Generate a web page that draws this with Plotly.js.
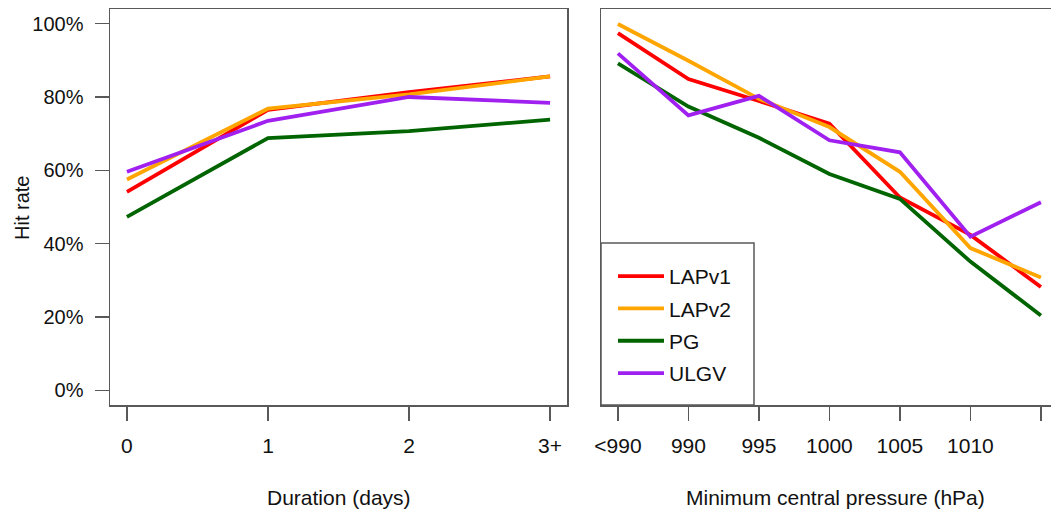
<!DOCTYPE html>
<html>
<head>
<meta charset="utf-8">
<script src="https://cdn.plot.ly/plotly-3.0.1.min.js"></script>
<style>html,body{margin:0;padding:0;background:#fff;}#chart{width:1051px;height:510px;}</style>
</head>
<body>
<div id="chart"></div>
<script>
// ---- data ----
const seriesNames = ["LAPv1", "LAPv2", "PG", "ULGV"];
const seriesColors = ["#FF0000", "#FFA500", "#006400", "#A020F0"];

const durationLabels = ["0", "1", "2", "3+"];
const durationPos = [0, 1, 2, 3];
const durLAPv1 = [54.1, 76.5, 81.3, 85.6];
const durLAPv2 = [57.5, 76.8, 80.7, 85.6];
const durPG    = [47.3, 68.8, 70.7, 73.8];
const durULGV  = [59.6, 73.5, 80.0, 78.4];

const pressureLabels = ["<990", "990", "995", "1000", "1005", "1010", ""];
const pressurePos = [0, 1, 2, 3, 4, 5, 6];
const presLAPv1 = [97.4, 84.9, 78.9, 72.7, 52.6, 42.4, 28.2];
const presLAPv2 = [99.9, 89.9, 79.5, 71.8, 59.6, 38.8, 30.8];
const presPG    = [89.2, 77.4, 68.9, 59.0, 52.2, 35.1, 20.4];
const presULGV  = [91.9, 75.0, 80.3, 68.2, 64.9, 41.9, 51.3];

const yTickVals = [0, 20, 40, 60, 80, 100];
const yTickText = ["0%", "20%", "40%", "60%", "80%", "100%"];

// ---- layout helpers ----
const W = 1051, H = 510;
const px = v => v / W;
const py = v => (H - v) / H;
const FONT = "Liberation Sans, Arial, Helvetica, sans-serif";
const AX = "#595959";

const durSeries = [durLAPv1, durLAPv2, durPG, durULGV];
const presSeries = [presLAPv1, presLAPv2, presPG, presULGV];

const traces = [];
seriesNames.forEach((name, i) => {
  traces.push({
    x: durationPos, y: durSeries[i], type: "scatter", mode: "lines",
    name: name, legendgroup: name, showlegend: true,
    line: {color: seriesColors[i], width: 3.8},
    xaxis: "x", yaxis: "y", hoverinfo: "skip"
  });
});
seriesNames.forEach((name, i) => {
  traces.push({
    x: pressurePos, y: presSeries[i], type: "scatter", mode: "lines",
    name: name, legendgroup: name, showlegend: false,
    line: {color: seriesColors[i], width: 3.8},
    xaxis: "x2", yaxis: "y2", hoverinfo: "skip"
  });
});

const yDom = [py(405), py(9)];
const xSpacing2 = 70.5;

const commonAxis = {
  showgrid: false, zeroline: false, showline: true, linecolor: AX, linewidth: 1.5,
  ticks: "outside", ticklen: 14, tickwidth: 1.5, tickcolor: AX,
  tickfont: {family: FONT, size: 21, color: "#111"}, fixedrange: true
};

const layout = {
  width: W, height: H,
  margin: {l: 0, r: 0, t: 0, b: 0, pad: 0},
  paper_bgcolor: "#fff", plot_bgcolor: "#fff",
  font: {family: FONT, color: "#111"},
  showlegend: true,
  xaxis: Object.assign({}, commonAxis, {
    domain: [px(110), px(567)], range: [-0.12, 3.12], anchor: "y",
    tickvals: durationPos, ticktext: durationLabels, mirror: true,
    ticklabelstandoff: 7
  }),
  yaxis: Object.assign({}, commonAxis, {
    domain: yDom, range: [-4, 104], anchor: "x",
    tickvals: yTickVals, ticktext: yTickText, mirror: true,
    tickfont: {family: FONT, size: 20, color: "#111"},
    ticklabelstandoff: 7
  }),
  xaxis2: Object.assign({}, commonAxis, {
    domain: [px(601), 1], range: [-0.24, -0.24 + (W - 601) / xSpacing2], anchor: "y2",
    tickvals: pressurePos, ticktext: pressureLabels, mirror: true,
    ticklabelstandoff: 7
  }),
  yaxis2: Object.assign({}, commonAxis, {
    domain: yDom, range: [-4, 104], anchor: "x2",
    ticks: "", showticklabels: false, mirror: false
  }),
  legend: {
    x: px(613), y: py(256), xanchor: "left", yanchor: "top",
    bgcolor: "rgba(0,0,0,0)", borderwidth: 0,
    font: {family: FONT, size: 21, color: "#111"},
    traceorder: "grouped", tracegroupgap: 2, itemwidth: 46
  },
  shapes: [{
    type: "rect", xref: "paper", yref: "paper",
    x0: px(601), x1: px(754), y0: py(405), y1: py(243),
    line: {color: AX, width: 1.5}, fillcolor: "#fff", layer: "below"
  }],
  annotations: [
    {text: "Duration (days)", xref: "paper", yref: "paper", x: px(338.5), y: py(497),
     xanchor: "center", yanchor: "middle", showarrow: false, font: {family: FONT, size: 21, color: "#111"}},
    {text: "Minimum central pressure (hPa)", xref: "paper", yref: "paper", x: px(835), y: py(497),
     xanchor: "center", yanchor: "middle", showarrow: false, font: {family: FONT, size: 21, color: "#111"}},
    {text: "Hit rate", xref: "paper", yref: "paper", x: px(22), y: py(208), textangle: -90,
     xanchor: "center", yanchor: "middle", showarrow: false, font: {family: FONT, size: 20, color: "#111"}}
  ]
};

Plotly.newPlot("chart", traces, layout, {staticPlot: true, displayModeBar: false});
</script>
</body>
</html>
